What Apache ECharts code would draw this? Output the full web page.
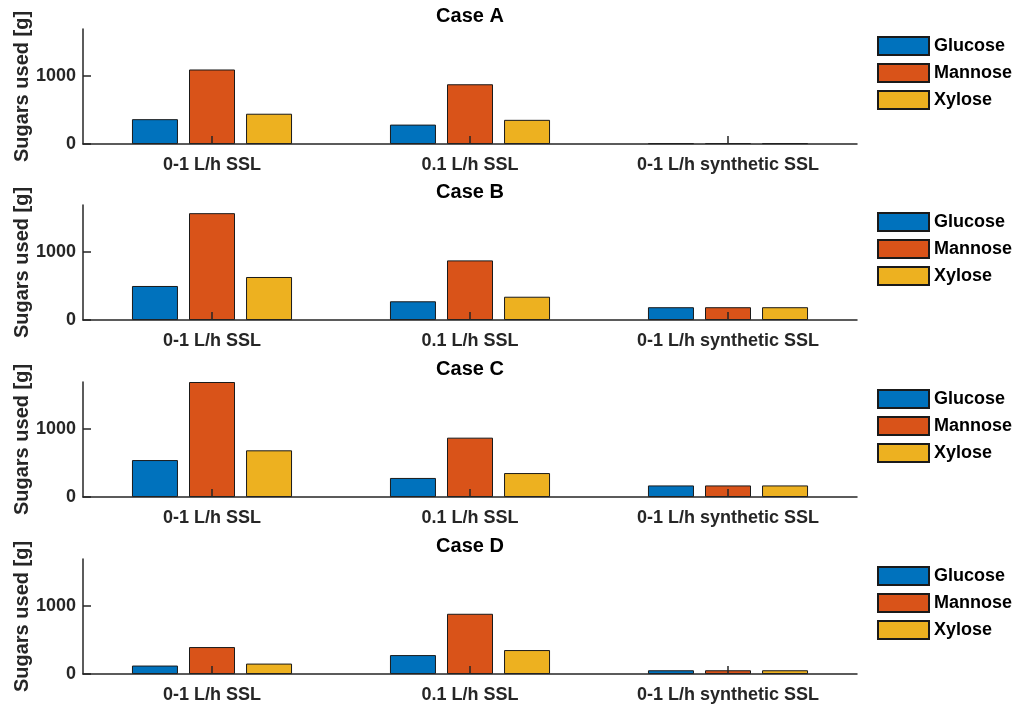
<!DOCTYPE html>
<html>
<head>
<meta charset="utf-8">
<script src="https://cdn.jsdelivr.net/npm/echarts@6/dist/echarts.min.js"></script>
<style>
  html, body { margin: 0; padding: 0; background: #ffffff; }
  #chart { width: 1015px; height: 706px; }
</style>
</head>
<body>
<div id="chart"></div>
<script>
// Feed categories shared by every panel
const categories = ['0-1 L/h SSL', '0.1 L/h SSL', '0-1 L/h synthetic SSL'];
const caseTitles = ['Case A', 'Case B', 'Case C', 'Case D'];
const sugarNames = ['Glucose', 'Mannose', 'Xylose'];
const yTicks = [0, 1000];
const yMax = 1690;

// Sugars used [g] per case, one value per feed category
const glucoseA = [365, 285, 12];
const mannoseA = [1095, 878, 14];
const xyloseA  = [445, 355, 12];

const glucoseB = [500, 275, 188];
const mannoseB = [1570, 876, 188];
const xyloseB  = [632, 342, 188];

const glucoseC = [543, 280, 170];
const mannoseC = [1690, 872, 170];
const xyloseC  = [686, 352, 170];

const glucoseD = [124, 278, 55];
const mannoseD = [396, 885, 55];
const xyloseD  = [153, 352, 55];

const caseData = [
  [glucoseA, mannoseA, xyloseA],
  [glucoseB, mannoseB, xyloseB],
  [glucoseC, mannoseC, xyloseC],
  [glucoseD, mannoseD, xyloseD]
];

const sugarColors = ['#0072BD', '#D95319', '#EDB120'];
const axisColor = '#262626';
const font = '"Liberation Sans", Arial, Helvetica, sans-serif';

const panelTop = [29, 205, 382, 559];
const panelHeight = 115;
const plotLeft = 83;
const plotWidth = 774;

const grids = [], xAxes = [], yAxes = [], series = [], titles = [], legends = [];

panelTop.forEach(function (top, i) {
  grids.push({
    left: plotLeft, top: top, width: plotWidth, height: panelHeight,
    containLabel: false, outerBoundsMode: 'none'
  });

  titles.push({
    text: caseTitles[i],
    left: plotLeft + plotWidth / 2,
    textAlign: 'center',
    top: top - 23,
    padding: 0,
    textStyle: { fontFamily: font, fontSize: 20, fontWeight: 'bold', color: '#000000' }
  });

  xAxes.push({
    type: 'category',
    gridIndex: i,
    data: categories,
    z: 5,
    axisLine: { show: true, lineStyle: { color: axisColor, width: 1.5 } },
    axisTick: { show: true, inside: true, length: 8, alignWithLabel: true, lineStyle: { color: axisColor, width: 1.5 } },
    axisLabel: { margin: 12, fontFamily: font, fontSize: 18, fontWeight: 'bold', color: axisColor },
    splitLine: { show: false }
  });

  yAxes.push({
    type: 'value',
    gridIndex: i,
    min: 0,
    max: yMax,
    interval: 1000,
    z: 5,
    name: 'Sugars used [g]',
    nameLocation: 'middle',
    nameRotate: 90,
    nameGap: 51,
    nameMoveOverlap: false,
    nameTextStyle: { fontFamily: font, fontSize: 20, fontWeight: 'bold', color: axisColor },
    axisLine: { show: true, lineStyle: { color: axisColor, width: 1.5 } },
    axisTick: { show: true, inside: true, length: 8, customValues: yTicks, lineStyle: { color: axisColor, width: 1.5 } },
    axisLabel: {
      margin: 7, customValues: yTicks,
      formatter: function (v) { return String(v); },
      fontFamily: font, fontSize: 18, fontWeight: 'bold', color: axisColor
    },
    splitLine: { show: false }
  });

  sugarNames.forEach(function (name, k) {
    series.push({
      name: name,
      type: 'bar',
      xAxisIndex: i,
      yAxisIndex: i,
      data: caseData[i][k],
      barWidth: 46,
      barGap: '24%',
      z: 2,
      itemStyle: { color: sugarColors[k], borderColor: '#1a1a1a', borderWidth: 1 },
      emphasis: { disabled: true },
      animation: false
    });
  });

  legends.push({
    data: sugarNames,
    orient: 'vertical',
    left: 877,
    top: top + 7,
    padding: 0,
    itemWidth: 51,
    itemHeight: 18,
    itemGap: 7,
    icon: 'rect',
    selectedMode: false,
    textStyle: { fontFamily: font, fontSize: 18, fontWeight: 'bold', color: '#000000' }
  });
});

const chart = echarts.init(document.getElementById('chart'), null, { renderer: 'canvas' });
chart.setOption({
  backgroundColor: '#ffffff',
  animation: false,
  color: sugarColors,
  title: titles,
  legend: legends,
  grid: grids,
  xAxis: xAxes,
  yAxis: yAxes,
  series: series
});
</script>
</body>
</html>
